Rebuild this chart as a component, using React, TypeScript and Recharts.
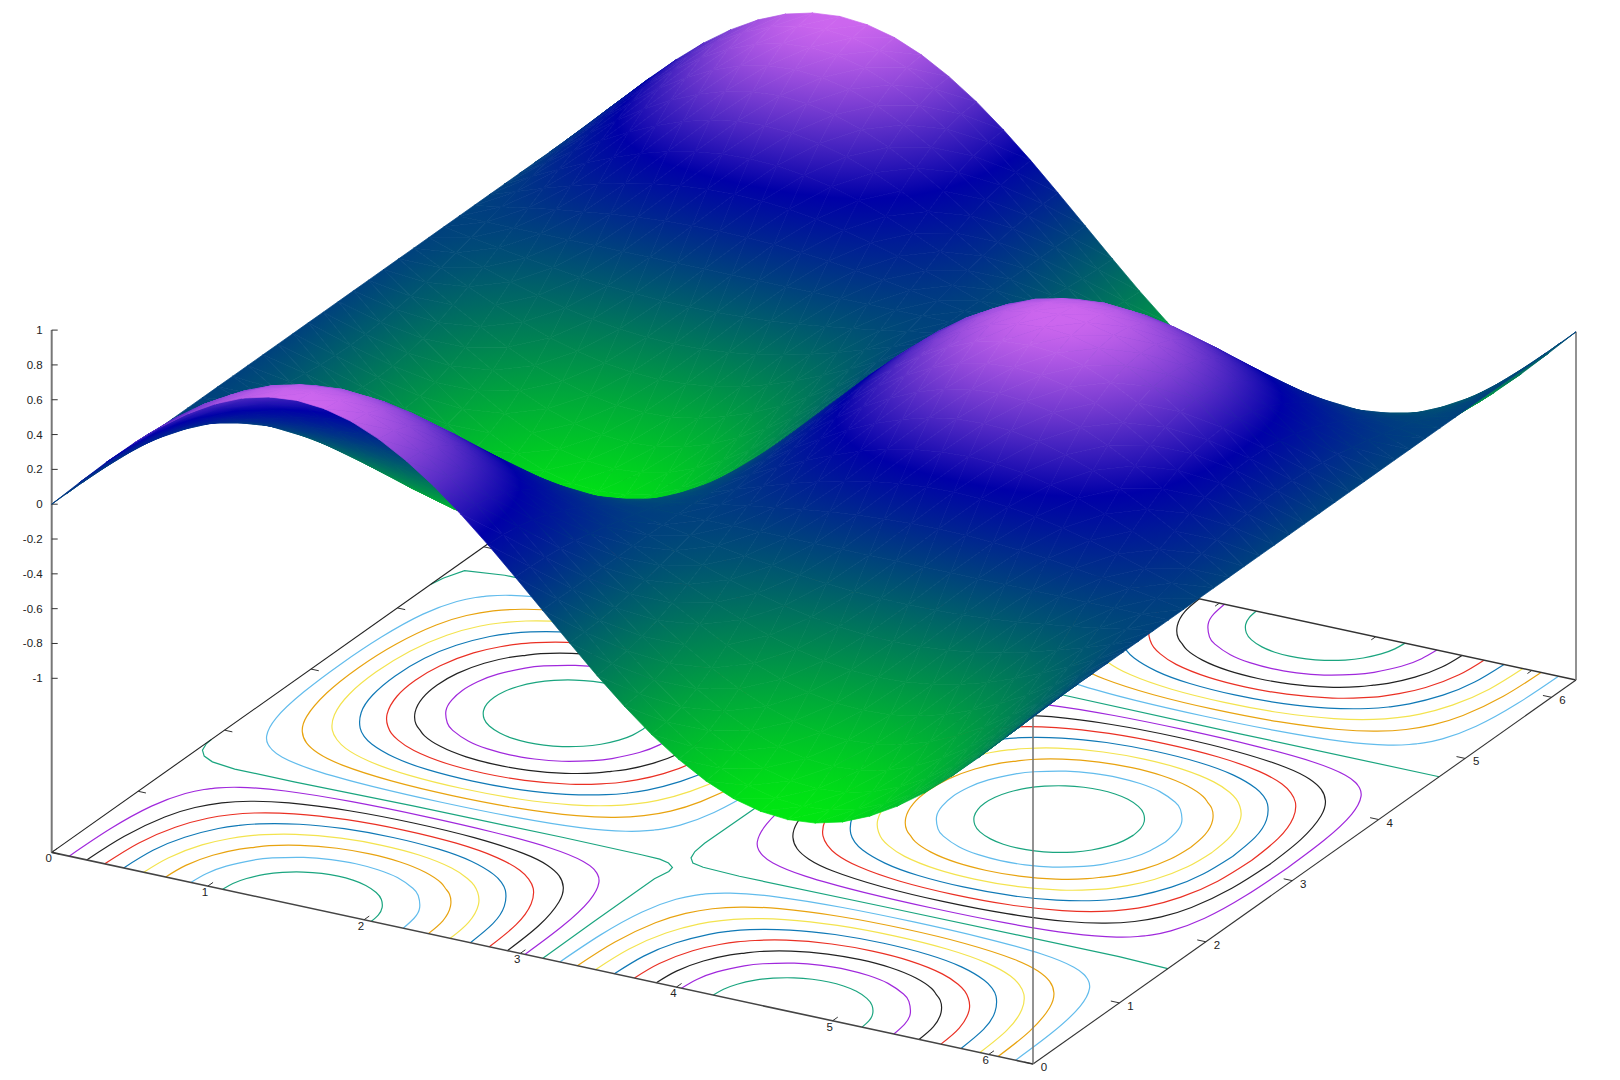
import React from "react";
import { ScatterChart, Scatter, XAxis, YAxis } from "recharts";

const P0 = [0,.156,.308,.45,.579,.689,.779,.846,.886,.9,.886,.846,.779,.689,.579,.45,.308,.156,0,-.156,-.308,-.45,-.579,-.689,-.779,-.846,-.886,-.9,-.886,-.846,-.779,-.689,-.579,-.45,-.308,-.156,0];
const P1 = [0,.154,.303,.443,.57,.679,.767,.833,.873,.886,.873,.833,.767,.679,.57,.443,.303,.154,0,-.154,-.303,-.443,-.57,-.679,-.767,-.833,-.873,-.886,-.873,-.833,-.767,-.679,-.57,-.443,-.303,-.154,0];
const P2 = [0,.147,.289,.423,.544,.648,.732,.795,.833,.846,.833,.795,.732,.648,.544,.423,.289,.147,0,-.147,-.289,-.423,-.544,-.648,-.732,-.795,-.833,-.846,-.833,-.795,-.732,-.648,-.544,-.423,-.289,-.147,0];
const P3 = [0,.135,.267,.39,.501,.597,.675,.733,.767,.779,.767,.733,.675,.597,.501,.39,.267,.135,0,-.135,-.267,-.39,-.501,-.597,-.675,-.733,-.767,-.779,-.767,-.733,-.675,-.597,-.501,-.39,-.267,-.135,0];
const P4 = [0,.12,.236,.345,.443,.528,.597,.648,.679,.689,.679,.648,.597,.528,.443,.345,.236,.12,0,-.12,-.236,-.345,-.443,-.528,-.597,-.648,-.679,-.689,-.679,-.648,-.597,-.528,-.443,-.345,-.236,-.12,0];
const P5 = [0,.1,.198,.289,.372,.443,.501,.544,.57,.579,.57,.544,.501,.443,.372,.289,.198,.1,0,-.1,-.198,-.289,-.372,-.443,-.501,-.544,-.57,-.579,-.57,-.544,-.501,-.443,-.372,-.289,-.198,-.1,0];
const P6 = [0,.078,.154,.225,.289,.345,.39,.423,.443,.45,.443,.423,.39,.345,.289,.225,.154,.078,0,-.078,-.154,-.225,-.289,-.345,-.39,-.423,-.443,-.45,-.443,-.423,-.39,-.345,-.289,-.225,-.154,-.078,0];
const P7 = [0,.053,.105,.154,.198,.236,.267,.289,.303,.308,.303,.289,.267,.236,.198,.154,.105,.053,0,-.053,-.105,-.154,-.198,-.236,-.267,-.289,-.303,-.308,-.303,-.289,-.267,-.236,-.198,-.154,-.105,-.053,0];
const P8 = [0,.027,.053,.078,.1,.12,.135,.147,.154,.156,.154,.147,.135,.12,.1,.078,.053,.027,0,-.027,-.053,-.078,-.1,-.12,-.135,-.147,-.154,-.156,-.154,-.147,-.135,-.12,-.1,-.078,-.053,-.027,0];
const FLAT = [0,0,0,0,0,0,0,0,0,0,0,0,0,0,0,0,0,0,0,0,0,0,0,0,0,0,0,0,0,0,0,0,0,0,0,0,0];
const N8 = [0,-.027,-.053,-.078,-.1,-.12,-.135,-.147,-.154,-.156,-.154,-.147,-.135,-.12,-.1,-.078,-.053,-.027,0,.027,.053,.078,.1,.12,.135,.147,.154,.156,.154,.147,.135,.12,.1,.078,.053,.027,0];
const N7 = [0,-.053,-.105,-.154,-.198,-.236,-.267,-.289,-.303,-.308,-.303,-.289,-.267,-.236,-.198,-.154,-.105,-.053,0,.053,.105,.154,.198,.236,.267,.289,.303,.308,.303,.289,.267,.236,.198,.154,.105,.053,0];
const N6 = [0,-.078,-.154,-.225,-.289,-.345,-.39,-.423,-.443,-.45,-.443,-.423,-.39,-.345,-.289,-.225,-.154,-.078,0,.078,.154,.225,.289,.345,.39,.423,.443,.45,.443,.423,.39,.345,.289,.225,.154,.078,0];
const N5 = [0,-.1,-.198,-.289,-.372,-.443,-.501,-.544,-.57,-.579,-.57,-.544,-.501,-.443,-.372,-.289,-.198,-.1,0,.1,.198,.289,.372,.443,.501,.544,.57,.579,.57,.544,.501,.443,.372,.289,.198,.1,0];
const N4 = [0,-.12,-.236,-.345,-.443,-.528,-.597,-.648,-.679,-.689,-.679,-.648,-.597,-.528,-.443,-.345,-.236,-.12,0,.12,.236,.345,.443,.528,.597,.648,.679,.689,.679,.648,.597,.528,.443,.345,.236,.12,0];
const N3 = [0,-.135,-.267,-.39,-.501,-.597,-.675,-.733,-.767,-.779,-.767,-.733,-.675,-.597,-.501,-.39,-.267,-.135,0,.135,.267,.39,.501,.597,.675,.733,.767,.779,.767,.733,.675,.597,.501,.39,.267,.135,0];
const N2 = [0,-.147,-.289,-.423,-.544,-.648,-.732,-.795,-.833,-.846,-.833,-.795,-.732,-.648,-.544,-.423,-.289,-.147,0,.147,.289,.423,.544,.648,.732,.795,.833,.846,.833,.795,.732,.648,.544,.423,.289,.147,0];
const N1 = [0,-.154,-.303,-.443,-.57,-.679,-.767,-.833,-.873,-.886,-.873,-.833,-.767,-.679,-.57,-.443,-.303,-.154,0,.154,.303,.443,.57,.679,.767,.833,.873,.886,.873,.833,.767,.679,.57,.443,.303,.154,0];
const N0 = [0,-.156,-.308,-.45,-.579,-.689,-.779,-.846,-.886,-.9,-.886,-.846,-.779,-.689,-.579,-.45,-.308,-.156,0,.156,.308,.45,.579,.689,.779,.846,.886,.9,.886,.846,.779,.689,.579,.45,.308,.156,0];

const HEIGHTS: number[][] = [
  P0, P1, P2, P3, P4, P5, P6, P7, P8, FLAT,
  N8, N7, N6, N5, N4, N3, N2, N1, N0, N1, N2, N3, N4, N5, N6, N7, N8, FLAT,
  P8, P7, P6, P5, P4, P3, P2, P1, P0,
];

const X_TICKS = [0, 1, 2, 3, 4, 5, 6];
const Y_TICKS = [0, 1, 2, 3, 4, 5, 6];
const Z_TICKS = [1, 0.8, 0.6, 0.4, 0.2, 0, -0.2, -0.4, -0.6, -0.8, -1];

// Palette: height -> colour.
const PALETTE_Z = [-0.9, 0.35, 0.89];
const PALETTE_RGB = [[0, 232, 16], [0, 0, 168], [204, 102, 238]];

// One quarter of each contour loop, as distance from the loop's centre along x and y.
const RING_A = [[0,.476],[.1,.466],[.2,.434],[.3,.374],[.374,.3],[.434,.2],[.466,.1],[.476,0]];
const RING_B = [[0,.68],[.15,.665],[.3,.619],[.45,.527],[.527,.45],[.619,.3],[.665,.15],[.68,0]];
const RING_C = [[0,.841],[.2,.823],[.4,.761],[.55,.672],[.612,.612],[.672,.55],[.761,.4],[.823,.2],[.841,0]];
const RING_D = [[0,.981],[.25,.96],[.5,.885],[.65,.797],[.73,.73],[.797,.65],[.885,.5],[.96,.25],[.981,0]];
const RING_E = [[0,1.11],[.3,1.088],[.55,1.023],[.75,.919],[.842,.842],[.919,.75],[1.023,.55],[1.088,.3],[1.11,0]];
const RING_F = [[0,1.231],[.35,1.209],[.65,1.139],[.85,1.042],[.955,.955],[1.042,.85],[1.139,.65],[1.209,.35],[1.231,0]];
const RING_G = [[0,1.347],[.4,1.327],[.75,1.262],[.95,1.179],[1.08,1.08],[1.179,.95],[1.262,.75],[1.327,.4],[1.347,0]];
const RING_H = [[0,1.459],[.45,1.447],[.85,1.402],[1.1,1.324],[1.2,1.26],[1.231,1.231],[1.26,1.2],[1.324,1.1],[1.402,.85],[1.447,.45],[1.459,0]];

// The near-zero contour runs along the grid lines, with hooks at the plot edge. Plane x,y.
const ZERO_FRONT_LEFT = [[0,1.85],[.005,1.78],[.03,1.69],[.08,1.62],[.16,1.57],[.32,1.54],[.7,1.54],[1.45,1.56],[2.4,1.57],[2.91,1.565],[3.03,1.56],[3.1,1.535],[3.15,1.49],[3.16,1.43],[3.14,1.3],[3.14,.6],[3.145,0]];
const ZERO_BACK_LEFT = [[0,4.39],[.02,4.5],[.07,4.65],[.3,4.7],[1.5,4.71],[3,4.71]];
const ZERO_FRONT_RIGHT = [[6.283,1.56],[5.96,1.58],[4.5,1.57],[3.54,1.56],[3.3,1.575],[3.22,1.6],[3.175,1.66],[3.15,1.75],[3.14,1.88],[3.145,2.6]];
const ZERO_BACK_RIGHT = [[6.283,4.7],[5,4.7],[3.6,4.71],[3.2,4.72]];
const ZERO_LINES = [ZERO_FRONT_LEFT, ZERO_BACK_LEFT, ZERO_FRONT_RIGHT, ZERO_BACK_RIGHT];

const TEAL = "#1aa57f";
const LIGHT_BLUE = "#62bcec";
const YELLOW = "#f3e34e";
const ORANGE = "#e8a30f";
const BLUE = "#1079b6";
const RED = "#ea3024";
const BLACK = "#222222";
const PURPLE = "#a028dc";

const RAISED_RINGS = [
  { ring: RING_H, color: PURPLE },
  { ring: RING_G, color: BLACK },
  { ring: RING_F, color: RED },
  { ring: RING_E, color: BLUE },
  { ring: RING_D, color: YELLOW },
  { ring: RING_C, color: ORANGE },
  { ring: RING_B, color: LIGHT_BLUE },
  { ring: RING_A, color: TEAL },
];
const SUNKEN_RINGS = [
  { ring: RING_H, color: LIGHT_BLUE },
  { ring: RING_G, color: ORANGE },
  { ring: RING_F, color: YELLOW },
  { ring: RING_E, color: BLUE },
  { ring: RING_D, color: RED },
  { ring: RING_C, color: BLACK },
  { ring: RING_B, color: PURPLE },
  { ring: RING_A, color: TEAL },
];

const HALF_PI = 1.5708;
const PI = 3.1416;
const TWO_PI = 6.2832;
const RAISED_CENTRES = [[HALF_PI, 0], [3 * HALF_PI, PI], [HALF_PI, TWO_PI]];
const SUNKEN_CENTRES = [[HALF_PI, PI], [3 * HALF_PI, 0], [3 * HALF_PI, TWO_PI]];

// gnuplot's fixed view: base plane corners and vertical scale, in chart units.
function project(x: number, y: number, z: number) {
  const u = x / TWO_PI;
  const v = y / TWO_PI;
  return {
    x: 51.7 + u * 981.3 + v * 543,
    y: 852.4 + u * 211.6 - v * 384 - (z + 2) * 174.1,
  };
}
const onBase = (x: number, y: number) => project(x, y, -2);

function paletteAt(z: number) {
  let k = 0;
  while (k < PALETTE_Z.length - 2 && z > PALETTE_Z[k + 1]) k++;
  const t = Math.min(1, Math.max(0, (z - PALETTE_Z[k]) / (PALETTE_Z[k + 1] - PALETTE_Z[k])));
  const c = PALETTE_RGB[k].map((a, n) => Math.round(a + (PALETTE_RGB[k + 1][n] - a) * t));
  return `rgb(${c[0]},${c[1]},${c[2]})`;
}

type Vertex = { x: number; y: number; z: number };

function vertex(i: number, j: number): Vertex {
  const p = project((i * TWO_PI) / 36, (j * TWO_PI) / 36, HEIGHTS[j][i]);
  return { ...p, z: HEIGHTS[j][i] };
}

// Back to front, so nearer parts of the surface paint over farther ones.
function buildFacets() {
  const out: any[] = [];
  for (let j = HEIGHTS.length - 2; j >= 0; j--) {
    for (let i = 0; i < HEIGHTS[j].length - 1; i++) {
      const a = vertex(i, j + 1);
      const b = vertex(i, j);
      const c = vertex(i + 1, j + 1);
      const d = vertex(i + 1, j);
      for (const tri of [[a, b, c], [d, b, c]]) {
        out.push({
          id: `f${out.length}`,
          tri,
          x: (tri[0].x + tri[1].x + tri[2].x) / 3,
          y: (tri[0].y + tri[1].y + tri[2].y) / 3,
        });
      }
    }
  }
  return out;
}

// A triangle's height is linear on screen, so one linear gradient colours it exactly.
function Facet(props: any) {
  const { cx, cy, payload } = props;
  const shiftX = cx - payload.x;
  const shiftY = cy - payload.y;
  const tri: Vertex[] = payload.tri;
  const pts = tri.map((p) => `${(p.x + shiftX).toFixed(2)},${(p.y + shiftY).toFixed(2)}`).join(" ");
  const dx1 = tri[1].x - tri[0].x;
  const dy1 = tri[1].y - tri[0].y;
  const dz1 = tri[1].z - tri[0].z;
  const dx2 = tri[2].x - tri[0].x;
  const dy2 = tri[2].y - tri[0].y;
  const dz2 = tri[2].z - tri[0].z;
  const det = dx1 * dy2 - dx2 * dy1;
  const zs = tri.map((p) => p.z);
  const zMin = Math.min(...zs);
  const zMax = Math.max(...zs);
  if (Math.abs(det) < 1e-3 || zMax - zMin < 1e-4) {
    const fill = paletteAt((zMin + zMax) / 2);
    return <polygon points={pts} fill={fill} stroke={fill} strokeWidth={0.7} />;
  }
  const gx = (dz1 * dy2 - dz2 * dy1) / det;
  const gy = (dx1 * dz2 - dx2 * dz1) / det;
  const len2 = gx * gx + gy * gy;
  const low = tri[zs.indexOf(zMin)];
  const span = (zMax - zMin) / len2;
  const stops = [zMin, ...PALETTE_Z.filter((k) => k > zMin && k < zMax), zMax];
  return (
    <g>
      <defs>
        <linearGradient
          id={payload.id}
          gradientUnits="userSpaceOnUse"
          x1={low.x + shiftX}
          y1={low.y + shiftY}
          x2={low.x + shiftX + gx * span}
          y2={low.y + shiftY + gy * span}
        >
          {stops.map((z, n) => (
            <stop key={n} offset={(z - zMin) / (zMax - zMin)} stopColor={paletteAt(z)} />
          ))}
        </linearGradient>
      </defs>
      <polygon points={pts} fill={`url(#${payload.id})`} stroke={`url(#${payload.id})`} strokeWidth={0.7} />
    </g>
  );
}

function ringPoints(ring: number[][], cx: number, cy: number) {
  const back = [...ring].reverse();
  const top = [
    ...back.map(([a, v]) => onBase(cx + a, cy + v)),
    ...ring.slice(1).map(([a, v]) => onBase(cx - a, cy + v)),
  ];
  const bottom = [
    ...back.map(([a, v]) => onBase(cx - a, cy - v)),
    ...ring.slice(1).map(([a, v]) => onBase(cx + a, cy - v)),
  ];
  if (cy === 0) return top;
  if (cy === TWO_PI) return bottom;
  return [...top, ...bottom.slice(1)];
}

const contours: { points: any[]; color: string; joint: "natural" | "linear" }[] = [];
for (const [cx, cy] of RAISED_CENTRES) {
  for (const { ring, color } of RAISED_RINGS) contours.push({ points: ringPoints(ring, cx, cy), color, joint: "natural" });
}
for (const [cx, cy] of SUNKEN_CENTRES) {
  for (const { ring, color } of SUNKEN_RINGS) contours.push({ points: ringPoints(ring, cx, cy), color, joint: "natural" });
}
for (const line of ZERO_LINES) {
  contours.push({ points: line.map(([x, y]) => onBase(x, y)), color: TEAL, joint: "linear" });
}

const L = onBase(0, 0);
const F = onBase(TWO_PI, 0);
const R = onBase(TWO_PI, TWO_PI);
const B = onBase(0, TWO_PI);

const frame = [
  { points: [L, F], color: "#444444", width: 1.6 },
  { points: [F, R], color: "#333333", width: 1.1 },
  { points: [R, B], color: "#333333", width: 1.5 },
  { points: [L, B], color: "#222222", width: 1.1 },
  { points: [L, project(0, 0, 1)], color: "#777777", width: 2 },
  { points: [F, project(TWO_PI, 0, 0)], color: "#777777", width: 1.6 },
  { points: [R, project(TWO_PI, TWO_PI, 0)], color: "#777777", width: 1.6 },
];

const tickMarks: any[][] = [];
for (const t of X_TICKS) {
  tickMarks.push([onBase(t, 0), onBase(t, 0.06)]);
  tickMarks.push([onBase(t, TWO_PI), onBase(t, TWO_PI - 0.05)]);
}
for (const t of Y_TICKS) {
  tickMarks.push([onBase(TWO_PI, t), onBase(TWO_PI - 0.055, t)]);
  tickMarks.push([onBase(0, t), onBase(0.05, t)]);
}
for (const t of Z_TICKS) {
  const p = project(0, 0, t);
  tickMarks.push([p, { x: p.x + 6, y: p.y }]);
}

const labels = [
  ...X_TICKS.map((t) => {
    const p = onBase(t, 0);
    return { x: p.x, y: p.y, text: String(t), dx: -3, dy: 10, anchor: "middle" };
  }),
  ...Y_TICKS.map((t) => {
    const p = onBase(TWO_PI, t);
    return { x: p.x, y: p.y, text: String(t), dx: 11, dy: 7, anchor: "middle" };
  }),
  ...Z_TICKS.map((t) => {
    const p = project(0, 0, t);
    return { x: p.x, y: p.y, text: String(t), dx: -9, dy: 4, anchor: "end" };
  }),
];

function TickLabel(props: any) {
  const { cx, cy, payload } = props;
  return (
    <text
      x={cx + payload.dx}
      y={cy + payload.dy}
      textAnchor={payload.anchor}
      fontSize={11.5}
      fontFamily="'Liberation Sans', Arial, sans-serif"
      fill="#222222"
    >
      {payload.text}
    </text>
  );
}

const NoDot = () => <g />;
const facets = buildFacets();

export default function App() {
  return (
    <div style={{ position: "absolute", left: 0, top: 0, width: 1620, height: 1080, background: "#ffffff" }}>
      <ScatterChart width={1620} height={1080} margin={{ top: 0, right: 0, bottom: 0, left: 0 }}>
        <XAxis type="number" dataKey="x" domain={[0, 1620]} hide allowDataOverflow />
        <YAxis type="number" dataKey="y" domain={[0, 1080]} reversed hide allowDataOverflow />
        {contours.map((c, n) => (
          <Scatter
            key={`c${n}`}
            data={c.points}
            line={{ stroke: c.color, strokeWidth: 1.2 }}
            lineJointType={c.joint}
            shape={NoDot}
            isAnimationActive={false}
          />
        ))}
        {frame.map((f, n) => (
          <Scatter
            key={`f${n}`}
            data={f.points}
            line={{ stroke: f.color, strokeWidth: f.width }}
            shape={NoDot}
            isAnimationActive={false}
          />
        ))}
        {tickMarks.map((t, n) => (
          <Scatter
            key={`t${n}`}
            data={t}
            line={{ stroke: "#333333", strokeWidth: 1 }}
            shape={NoDot}
            isAnimationActive={false}
          />
        ))}
        <Scatter data={labels} shape={TickLabel} isAnimationActive={false} />
        <Scatter data={facets} shape={Facet} isAnimationActive={false} />
      </ScatterChart>
    </div>
  );
}
